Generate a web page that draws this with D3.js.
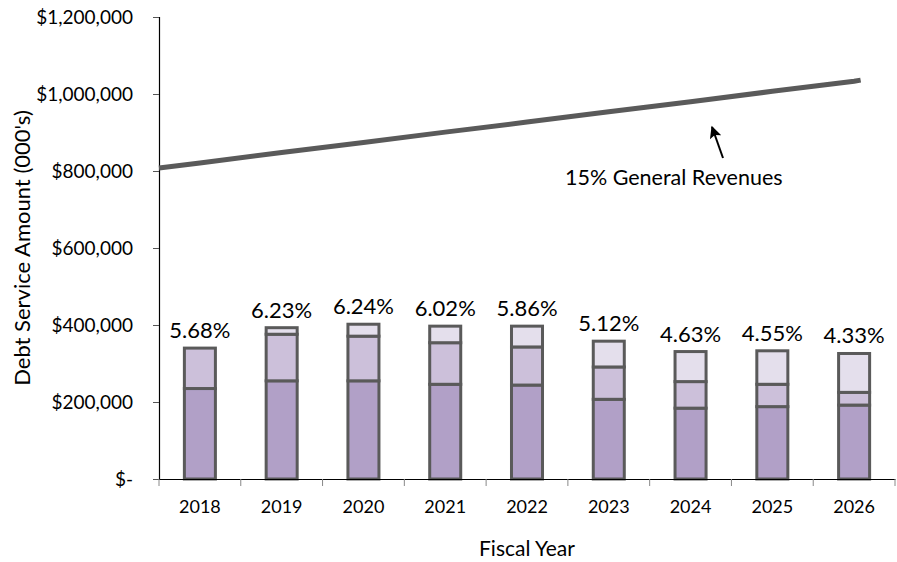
<!DOCTYPE html>
<html>
<head>
<meta charset="utf-8">
<script src="https://cdn.jsdelivr.net/npm/d3@7"></script>
<style>
  body { margin: 0; background: #fff; }
  #graf { width: 897px; height: 562px; }
  text { font-family: Lato, "Noto Sans", sans-serif; fill: #000; }
</style>
</head>
<body>
<div id="graf"></div>
<script>
const years = ["2018", "2019", "2020", "2021", "2022", "2023", "2024", "2025", "2026"]
// debt service pieces (000's)
const tramo1 = [235000, 255000, 255000, 246000, 244000, 207000, 184000, 188000, 192000]
const tramo2 = [105000, 121000, 116000, 108000, 99000, 84000, 69000, 58000, 33000]
const tramo3 = [0, 17000, 31000, 43000, 54000, 67000, 78000, 87000, 101000]
const pctLabels = ["5.68%", "6.23%", "6.24%", "6.02%", "5.86%", "5.12%", "4.63%", "4.55%", "4.33%"]
// 15% general revenues line
const revYears = [2017.5, 2018, 2019, 2020, 2021, 2022, 2023, 2024, 2025, 2026, 2026.08]
const revValues = [808000, 821000, 848000, 874000, 901000, 927000, 954000, 980000, 1007000, 1033000, 1036000]
const yTicks = [0, 200000, 400000, 600000, 800000, 1000000, 1200000]

const anchoTotal = 897
const altoTotal = 562
const margen = { left: 159, right: 2, top: 17, bottom: 83 }

const svg = d3.select("#graf")
  .append("svg")
  .attr("width", anchoTotal)
  .attr("height", altoTotal)

const x = d3.scaleBand()
  .domain(years)
  .range([margen.left, anchoTotal - margen.right])
  .paddingInner(0.584)
  .paddingOuter(0.292)

const xLin = d3.scaleLinear()
  .domain([2017.5, 2026.5])
  .range([margen.left, anchoTotal - margen.right])

const y = d3.scaleLinear()
  .domain([0, 1200000])
  .range([altoTotal - margen.bottom, margen.top])

const fmt = (d) => (d === 0 ? "$-" : "$" + d3.format(",")(d))

// y axis
const yAxis = svg.append("g")
  .attr("transform", `translate(${margen.left},0)`)
  .call(d3.axisLeft(y).tickValues(yTicks).tickFormat(fmt).tickSize(6).tickPadding(20))
yAxis.select(".domain").attr("stroke", "#000").attr("stroke-width", 1.2)
yAxis.selectAll(".tick line").attr("stroke", "#555")
yAxis.selectAll(".tick text").attr("font-size", 19).attr("fill", "#000")
yAxis.select(".tick:first-child text").attr("dx", -14)

// stacked bars
const colores = ["#b1a0c7", "#ccc0da", "#e4dfec"]
const stackData = years.map((yr, i) => ({ yr, a: tramo1[i], b: tramo2[i], c: tramo3[i] }))
const stack = d3.stack().keys(["a", "b", "c"])(stackData)

svg.append("g")
  .selectAll("g")
  .data(stack)
  .enter()
  .append("g")
  .attr("fill", (d, i) => colores[i])
  .selectAll("rect")
  .data((d) => d.filter((p) => p[1] - p[0] > 0))
  .enter()
  .append("rect")
  .attr("x", (d) => x(d.data.yr) + 1.5)
  .attr("width", x.bandwidth() - 3)
  .attr("y", (d) => y(d[1]))
  .attr("height", (d) => y(d[0]) - y(d[1]))
  .attr("stroke", "#5a5a5a")
  .attr("stroke-width", 3)

// percent labels
svg.append("g")
  .selectAll("text")
  .data(stackData)
  .enter()
  .append("text")
  .attr("x", (d) => x(d.yr) + x.bandwidth() / 2)
  .attr("y", (d) => y(d.a + d.b + d.c) - 10)
  .attr("text-anchor", "middle")
  .attr("font-size", 22)
  .text((d, i) => pctLabels[i])

// x axis
const xAxis = svg.append("g")
  .attr("transform", `translate(0,${y(0)})`)
  .call(d3.axisBottom(x).tickSize(0).tickPadding(21))
xAxis.select(".domain").attr("stroke", "#000").attr("stroke-width", 1.2)
xAxis.selectAll(".tick text").attr("font-size", 18).attr("fill", "#000")
xAxis.selectAll(".sep")
  .data(d3.range(0, years.length + 1))
  .enter()
  .append("line")
  .attr("class", "sep")
  .attr("x1", (d) => margen.left + d * x.step())
  .attr("x2", (d) => margen.left + d * x.step())
  .attr("y1", 0)
  .attr("y2", 7)
  .attr("stroke", "#888")

// revenue line
const linea = d3.line()
  .x((d, i) => xLin(revYears[i]))
  .y((d) => y(d))
svg.append("path")
  .datum(revValues)
  .attr("d", linea)
  .attr("fill", "none")
  .attr("stroke", "#5a5a5a")
  .attr("stroke-width", 5)

// annotation
svg.append("defs")
  .append("marker")
  .attr("id", "flecha")
  .attr("viewBox", "0 0 10 10")
  .attr("refX", 9)
  .attr("refY", 5)
  .attr("markerUnits", "userSpaceOnUse")
  .attr("markerWidth", 14)
  .attr("markerHeight", 12)
  .attr("orient", "auto")
  .append("path")
  .attr("d", "M0,0 L10,5 L0,10 L2,5 z")
  .attr("fill", "#000")

svg.append("line")
  .attr("x1", 723)
  .attr("y1", 158)
  .attr("x2", 712)
  .attr("y2", 127)
  .attr("stroke", "#000")
  .attr("stroke-width", 2)
  .attr("marker-end", "url(#flecha)")

svg.append("text")
  .attr("x", 565)
  .attr("y", 185)
  .attr("font-size", 21.5)
  .text("15% General Revenues")

// axis titles
svg.append("text")
  .attr("transform", `translate(30,${(margen.top + y(0)) / 2}) rotate(-90)`)
  .attr("text-anchor", "middle")
  .attr("font-size", 22)
  .text("Debt Service Amount (000's)")

svg.append("text")
  .attr("x", (margen.left + anchoTotal - margen.right) / 2)
  .attr("y", 556)
  .attr("text-anchor", "middle")
  .attr("font-size", 21)
  .text("Fiscal Year")
</script>
</body>
</html>
